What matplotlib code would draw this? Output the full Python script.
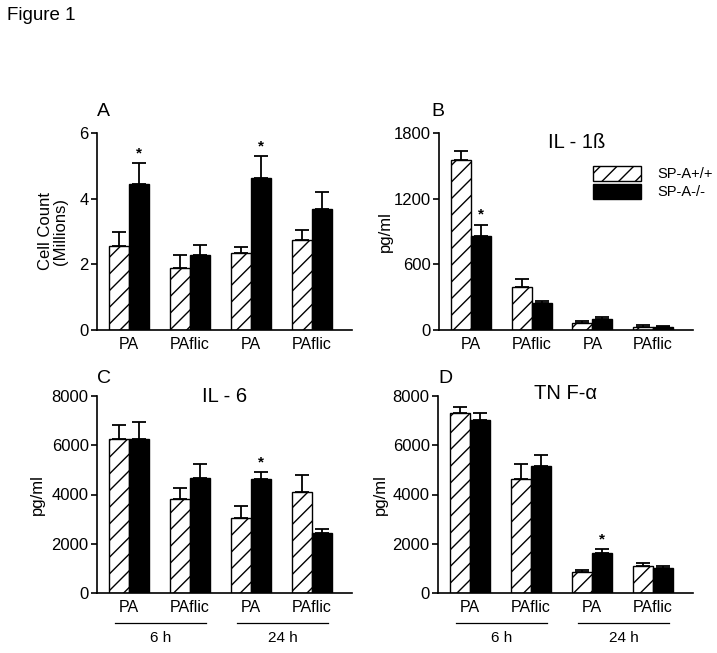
import matplotlib
matplotlib.use('Agg')
import matplotlib.pyplot as plt
import numpy as np

plt.rcParams['font.family'] = ['Liberation Sans', 'DejaVu Sans']
plt.rcParams['hatch.linewidth'] = 1.0

groups = ['PA', 'PAflic', 'PA', 'PAflic']
times = ['6 h', '24 h']

# SP-A+/+ (hatched) and SP-A-/- (black), mean and sem
cell_wt = [2.57, 1.90, 2.34, 2.74]
cell_wt_err = [0.40, 0.39, 0.20, 0.31]
cell_ko = [4.44, 2.29, 4.62, 3.68]
cell_ko_err = [0.64, 0.30, 0.67, 0.52]

il1b_wt = [1556, 390, 61, 30]
il1b_wt_err = [76, 77, 24, 13]
il1b_ko = [860, 244, 98, 30]
il1b_ko_err = [101, 24, 24, 7]

il6_wt = [6240, 3797, 3046, 4100]
il6_wt_err = [570, 450, 490, 680]
il6_ko = [6257, 4690, 4617, 2436]
il6_ko_err = [670, 540, 280, 180]

tnf_wt = [7323, 4616, 853, 1096]
tnf_wt_err = [230, 636, 95, 136]
tnf_ko = [7012, 5171, 1638, 1029]
tnf_ko_err = [311, 447, 149, 54]

W, H = 717, 653
fig = plt.figure(figsize=(W / 100, H / 100), dpi=100)
fig.text(7 / W, 1 - 16 / H, 'Figure 1', fontsize=13.5, va='center', ha='left')


def panel(rect, wt, wte, ko, koe, ymax, yticks, letter, title, title_pos,
          ylabel, ylab_x, stars, letter_xy, time_lines=False):
    x0, x1, ytop, ybot = rect
    ax = fig.add_axes([x0 / W, 1 - ybot / H, (x1 - x0) / W, (ybot - ytop) / H])
    x = np.arange(len(groups))
    bw = 0.33
    ax.bar(x - bw / 2, wt, bw, color='white', edgecolor='black', hatch='//',
           linewidth=1.0, zorder=2)
    ax.bar(x + bw / 2, ko, bw, color='black', edgecolor='black',
           linewidth=1.0, zorder=2)
    ax.errorbar(x - bw / 2, wt, yerr=[np.zeros(4), wte], fmt='none',
                ecolor='black', elinewidth=1.3, capsize=5, capthick=1.3, zorder=1)
    ax.errorbar(x + bw / 2, ko, yerr=[np.zeros(4), koe], fmt='none',
                ecolor='black', elinewidth=1.3, capsize=5, capthick=1.3, zorder=1)
    for i in stars:
        ax.text(x[i] + bw / 2, ko[i] + koe[i] + ymax * 0.015, '*', ha='center',
                va='bottom', fontsize=11, fontweight='bold')
    ax.set_xlim(-0.525, 3.656)
    ax.set_ylim(0, ymax)
    ax.set_yticks(yticks)
    ax.set_xticks(x)
    ax.set_xticklabels(groups, fontsize=11.5)
    ax.tick_params(axis='x', length=0, pad=5)
    ax.tick_params(axis='y', length=4, width=1.2, pad=2, labelsize=12,
                   direction='out')
    for s in ['top', 'right']:
        ax.spines[s].set_visible(False)
    for s in ['left', 'bottom']:
        ax.spines[s].set_linewidth(1.2)
    ax.set_ylabel(ylabel, fontsize=12, linespacing=1.0)
    ax.yaxis.set_label_coords(ylab_x, 0.5)
    ax.text(letter_xy[0], letter_xy[1], letter, transform=ax.transAxes,
            fontsize=14, ha='left', va='center')
    if title:
        ax.text(title_pos[0], title_pos[1], title, transform=ax.transAxes,
                fontsize=14.5, ha='center', va='center')
    if time_lines:
        tr = ax.get_xaxis_transform()
        for k, lab in enumerate(times):
            a, b = x[2 * k] - 0.23, x[2 * k + 1] + 0.27
            ax.plot([a, b], [-0.152, -0.152], color='black', lw=0.9,
                    transform=tr, clip_on=False)
            ax.text((a + b) / 2, -0.228, lab, transform=tr, ha='center',
                    va='center', fontsize=11)
    return ax


panel((97, 352, 133, 330), cell_wt, cell_wt_err, cell_ko, cell_ko_err,
      6, [0, 2, 4, 6], 'A', None, None, 'Cell Count\n(Millions)', -0.114,
      [0, 2], (0.0, 1.107))

axb = panel((439, 693, 133, 330), il1b_wt, il1b_wt_err, il1b_ko, il1b_ko_err,
            1800, [0, 600, 1200, 1800], 'B', 'IL - 1ß', (0.543, 0.954),
            'pg/ml', -0.181, [0], (-0.03, 1.107))
axb.legend(['SP-A+/+', 'SP-A-/-'], loc='upper left',
           bbox_to_anchor=(0.606, 0.835), frameon=False, fontsize=10.5,
           handlelength=3.3, handleheight=1.3, labelspacing=0.15,
           handletextpad=1.1, borderpad=0, borderaxespad=0)

panel((97, 352, 396, 593), il6_wt, il6_wt_err, il6_ko, il6_ko_err,
      8000, [0, 2000, 4000, 6000, 8000], 'C', 'IL - 6', (0.5, 0.995),
      'pg/ml', -0.204, [2], (0.0, 1.09), time_lines=True)

panel((438, 693, 396, 593), tnf_wt, tnf_wt_err, tnf_ko, tnf_ko_err,
      8000, [0, 2000, 4000, 6000, 8000], 'D', 'TN F-α', (0.5, 1.015),
      'pg/ml', -0.196, [2], (0.0, 1.09), time_lines=True)

fig.savefig('out.png', dpi=100)
